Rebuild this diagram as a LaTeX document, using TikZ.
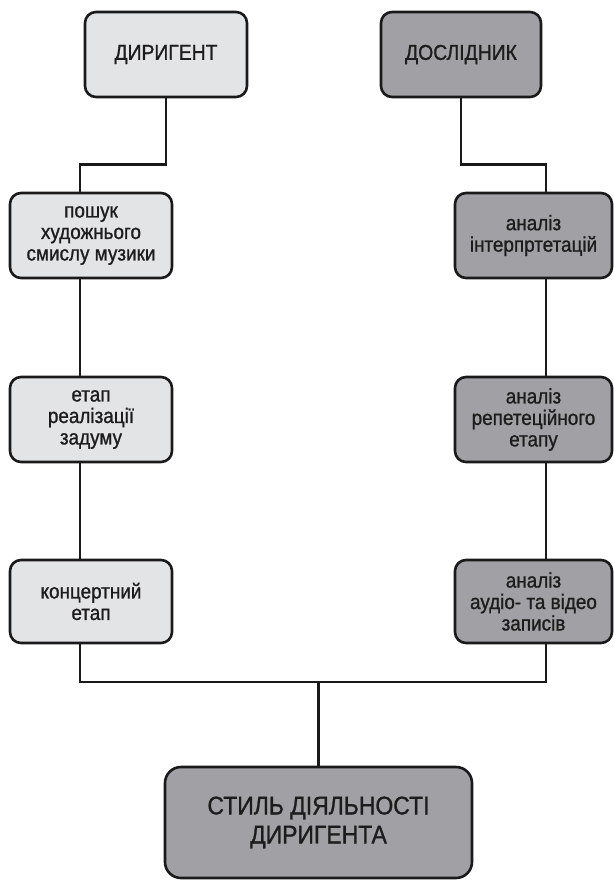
\documentclass[tikz,border=0pt]{standalone}
\usepackage{fontspec}
\setmainfont{Liberation Sans}[FakeStretch=0.9, FakeBold=1]
\definecolor{lightfill}{HTML}{E3E4E6}
\definecolor{darkfill}{HTML}{A1A1A5}
\definecolor{edge}{HTML}{1A1A1A}
\definecolor{ink}{HTML}{1C1C1C}
\begin{document}
\begin{tikzpicture}[x=1pt,y=-1pt,
  box/.style={draw=edge, line width=2.6pt, rounded corners=11pt, align=center,
    text=ink, inner sep=0pt, font=\fontsize{21}{21.5}\selectfont},
  lightbox/.style={box, fill=lightfill},
  darkbox/.style={box, fill=darkfill},
  conn/.style={draw=edge, line width=2.6pt}]
\useasboundingbox (0,0) rectangle (613,880);
% top
\node[lightbox, minimum width=162pt, minimum height=85pt, font=\fontsize{21.5}{23}\selectfont] (dir) at (166,54.5) {ДИРИГЕНТ};
\node[darkbox, minimum width=160pt, minimum height=85pt, font=\fontsize{21.5}{23}\selectfont] (dos) at (461,54.5) {ДОСЛІДНИК};
% left column
\node[lightbox, minimum width=162pt, minimum height=85pt] (l1) at (91,235.5) {пошук\\художнього\\смислу музики};
\node[lightbox, minimum width=162pt, minimum height=85pt] (l2) at (91,419.5) {етап\\реалізації\\задуму};
\node[lightbox, minimum width=162pt, minimum height=83pt] (l3) at (91,601.5) {концертний\\етап};
% right column
\node[darkbox, minimum width=157pt, minimum height=85pt] (r1) at (533.5,235.5) {аналіз\\інтерпртетацій};
\node[darkbox, minimum width=157pt, minimum height=85pt] (r2) at (533.5,419.5) {аналіз\\репетеційного\\етапу};
\node[darkbox, minimum width=157pt, minimum height=83pt] (r3) at (533.5,601.5) {аналіз\\аудіо- та відео\\записів};
% bottom
\node[darkbox, minimum width=307pt, minimum height=111pt, rounded corners=16pt, font=\fontsize{25.5}{29}\selectfont] (bot) at (318.5,822.5) {СТИЛЬ ДІЯЛЬНОСТІ\\ДИРИГЕНТА};
% connectors
\coordinate (j) at (318.5,682);
\draw[conn] (dir.south) -- ++(0,66) -| ([xshift=-11pt]l1.north);
\draw[conn] (dos.south) -- ++(0,66) -| ([xshift=12.5pt]r1.north);
\draw[conn] ([xshift=-11pt]l1.south) -- ([xshift=-11pt]l2.north);
\draw[conn] ([xshift=-11pt]l2.south) -- ([xshift=-11pt]l3.north);
\draw[conn] ([xshift=12.5pt]r1.south) -- ([xshift=12.5pt]r2.north);
\draw[conn] ([xshift=12.5pt]r2.south) -- ([xshift=12.5pt]r3.north);
\draw[conn] ([xshift=-11pt]l3.south) |- (j) -| ([xshift=12.5pt]r3.south);
\draw[conn] (j) -- (bot.north);
\end{tikzpicture}
\end{document}
